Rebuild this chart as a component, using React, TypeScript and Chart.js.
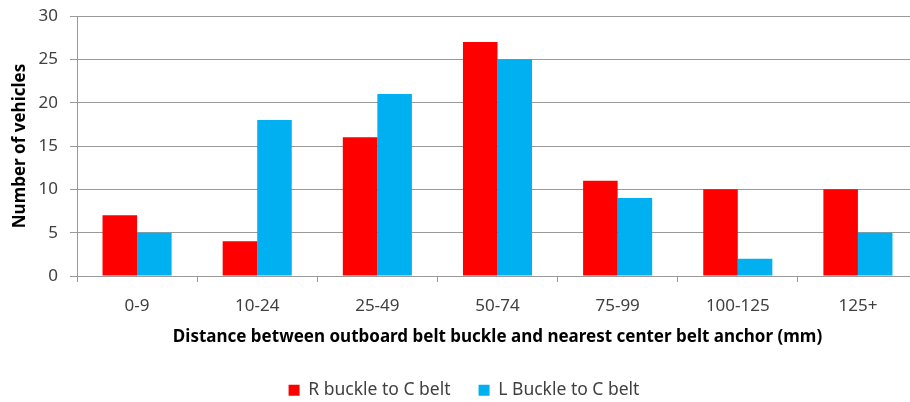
import React, { useEffect, useRef } from "react";
import { Chart, registerables } from "chart.js";

Chart.register(...registerables);

const categories = ["0-9", "10-24", "25-49", "50-74", "75-99", "100-125", "125+"];
const rBuckle = [7, 4, 16, 27, 11, 10, 10];
const lBuckle = [5, 18, 21, 25, 9, 2, 5];
const seriesNames = ["R buckle to C belt", "L Buckle to C belt"];
const yMin = 0;
const yMax = 30;
const yStep = 5;
const xTitle = "Distance between outboard belt buckle and nearest center belt anchor (mm)";
const yTitle = "Number of vehicles";

const FONT = "'Noto Sans', 'Open Sans', sans-serif";
const GRID = "#9a9a9a";
const TEXT = "#404040";

export default function App() {
  const ref = useRef<HTMLCanvasElement | null>(null);

  useEffect(() => {
    if (!ref.current) return;
    const chart = new Chart(ref.current, {
      type: "bar",
      data: {
        labels: categories,
        datasets: [
          {
            label: seriesNames[0],
            data: rBuckle,
            backgroundColor: "#FF0000",
            borderWidth: 0,
            barPercentage: 1,
            categoryPercentage: 0.575,
          },
          {
            label: seriesNames[1],
            data: lBuckle,
            backgroundColor: "#00B0F0",
            borderWidth: 0,
            barPercentage: 1,
            categoryPercentage: 0.575,
          },
        ],
      },
      options: {
        animation: false,
        responsive: true,
        maintainAspectRatio: false,
        layout: { padding: { top: 16, right: 6, left: 10, bottom: -7 } },
        plugins: {
          tooltip: { enabled: false },
          legend: {
            position: "bottom",
            labels: {
              boxWidth: 11,
              boxHeight: 11,
              padding: 28,
              color: TEXT,
              font: { family: FONT, size: 17.5 },
            },
          },
        },
        scales: {
          x: {
            grid: {
              display: true,
              drawOnChartArea: false,
              drawTicks: true,
              tickLength: 6,
              color: GRID,
              offset: true,
            },
            border: { display: true, color: GRID, width: 1 },
            ticks: {
              color: TEXT,
              padding: 14,
              font: { family: FONT, size: 17 },
              maxRotation: 0,
            },
            title: {
              display: true,
              text: xTitle,
              color: "#000",
              font: { family: FONT, size: 17, weight: "bold" },
              padding: { top: 4, bottom: 6 },
            },
            afterFit: (scale: any) => {
              scale.height = 77.5;
            },
          },
          y: {
            min: yMin,
            max: yMax,
            ticks: {
              stepSize: yStep,
              color: TEXT,
              padding: 12,
              font: { family: FONT, size: 17 },
            },
            grid: {
              color: GRID,
              lineWidth: 1,
              drawTicks: true,
              tickLength: 7,
            },
            border: { display: true, color: GRID, width: 1 },
            title: {
              display: true,
              text: yTitle,
              color: "#000",
              font: { family: FONT, size: 17, weight: "bold" },
              padding: { top: 0, bottom: 4 },
            },
            afterFit: (scale: any) => {
              scale.width = 67;
              scale.paddingTop = 0;
              scale.paddingBottom = 0;
            },
          },
        },
      },
    });
    return () => chart.destroy();
  }, []);

  return (
    <div
      style={{
        position: "fixed",
        left: 0,
        top: 0,
        width: 910,
        height: 402,
        overflow: "hidden",
        background: "#fff",
      }}
    >
      <div style={{ position: "relative", width: 924, height: 402 }}>
        <canvas ref={ref} />
      </div>
    </div>
  );
}
